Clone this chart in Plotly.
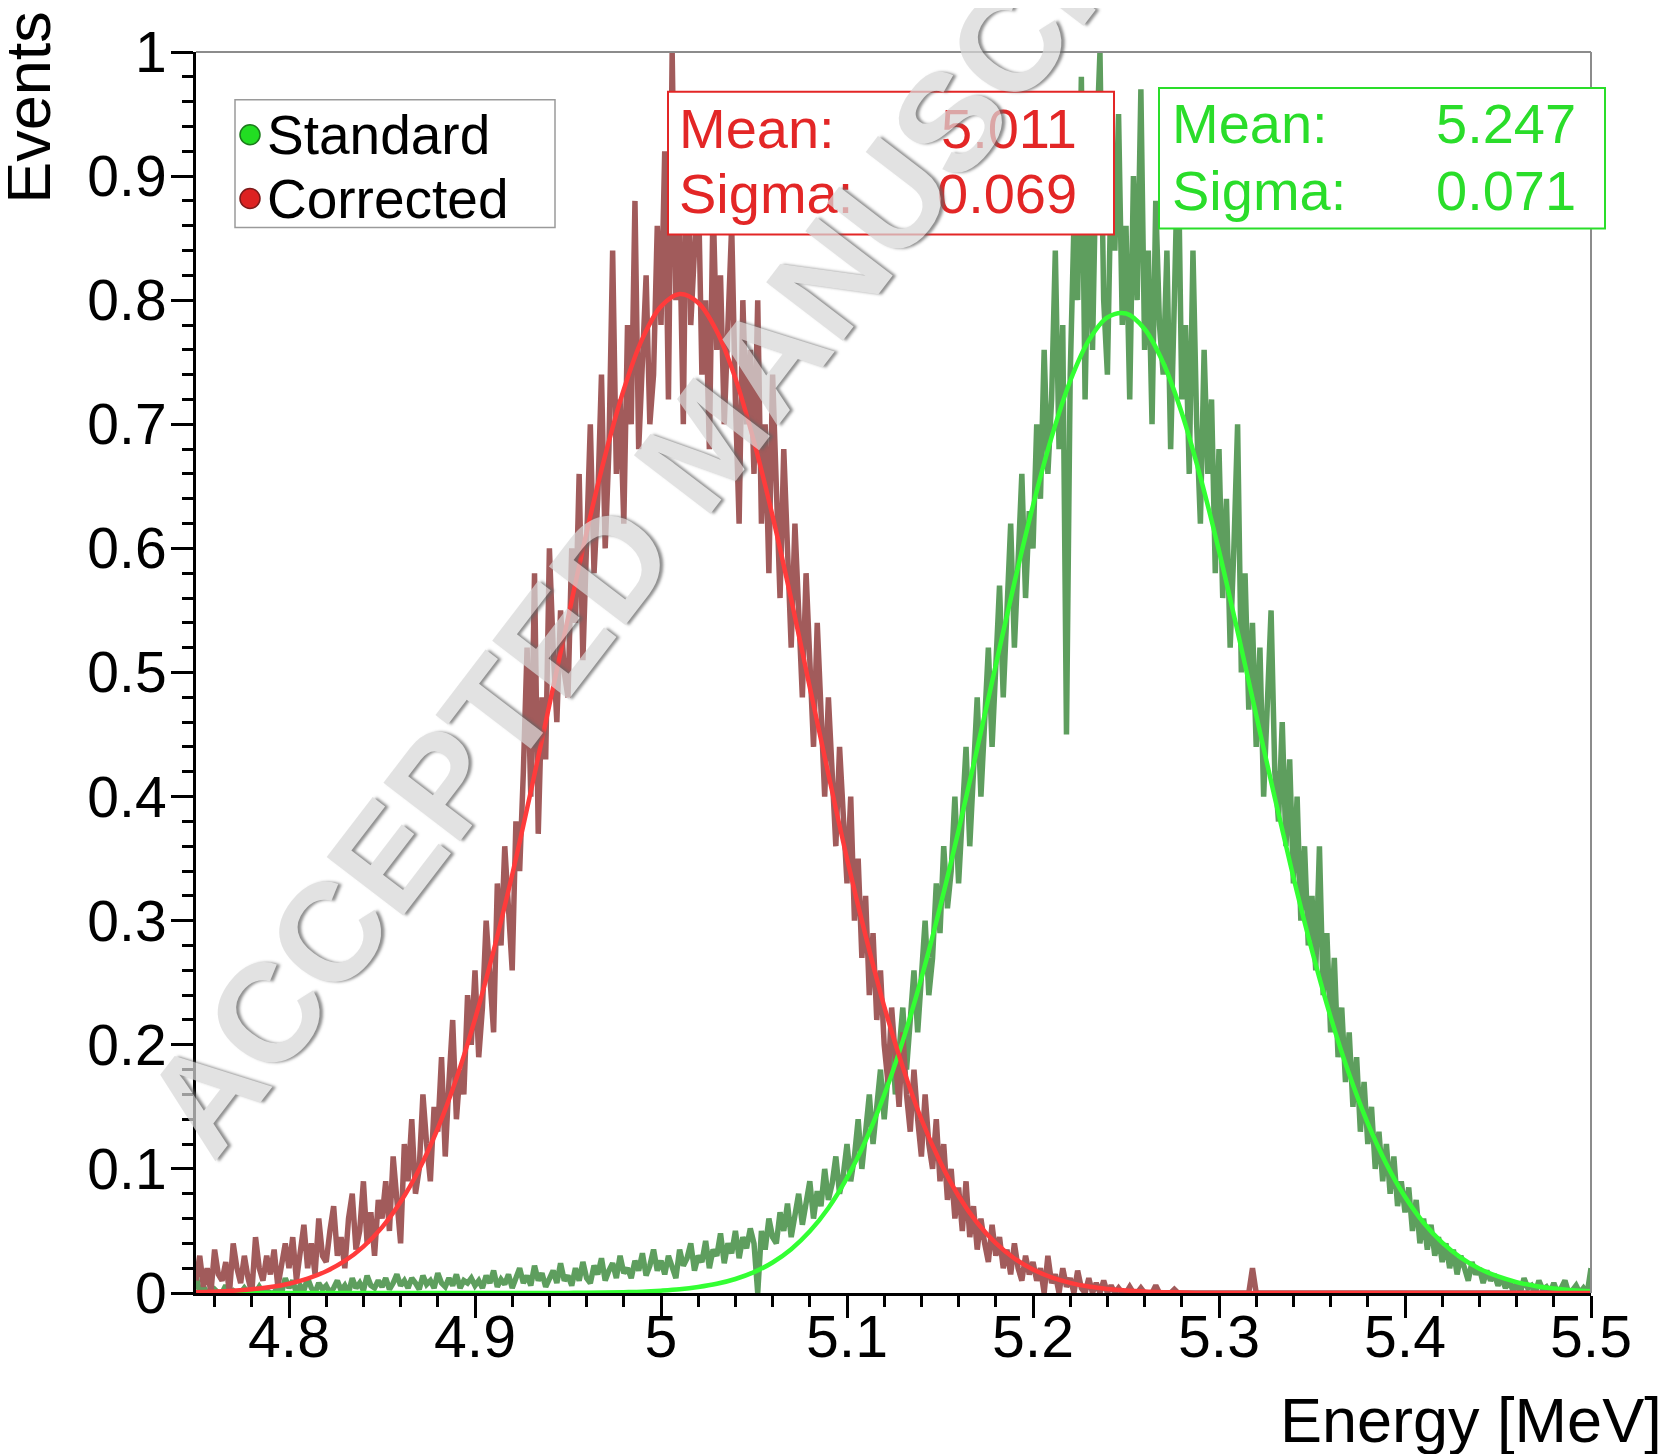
import plotly.graph_objects as go

# ---------------- data ----------------
bin_start = 4.75
bin_step = 0.002
n_bins = 376
energy = [round(bin_start + bin_step * i, 3) for i in range(n_bins)]

# one row = 25 bins = 0.05 MeV
corrected_counts = (
    [.01, .03, .005, .02, 0, .035, .015, .01, .025, 0, .04, .02, .008, .03, .012, 0, .045, .02, .01, .03, .015, .035, .005, .025, .04]
    + [.02, .045, .01, .03, .055, .02, .04, .015, .06, .03, .025, .05, .07, .03, .045, .02, .06, .08, .035, .05, .09, .04, .065, .03, .075]
    + [.06, .09, .05, .11, .075, .04, .12, .09, .14, .08, .10, .16, .12, .09, .15, .13, .19, .11, .17, .22, .14, .18, .16, .24, .20]
    + [.26, .19, .23, .30, .25, .21, .33, .28, .36, .30, .26, .38, .34, .42, .52, .40, .58, .37, .48, .43, .60, .52, .46, .55, .50]
    + [.48, .60, .54, .66, .51, .62, .70, .58, .64, .74, .60, .68, .84, .66, .72, .62, .78, .70, .88, .68, .76, .82, .70, .74, .86]
    + [.78, .92, .72, 1.0, .80, .86, .70, .96, .78, .84, .90, .74, .80, .68, .88, .76, .82, .70, .78, .86, .72, .62, .80, .70, .76]
    + [.66, .80, .62, .70, .58, .74, .64, .56, .68, .60, .52, .62, .55, .48, .58, .50, .44, .54, .46, .40, .48, .42, .36, .44, .38]
    + [.33, .40, .30, .35, .27, .32, .24, .29, .22, .26, .20, .17, .23, .19, .15, .21, .16, .13, .18, .14, .11, .16, .12, .10, .14]
    + [.09, .12, .075, .10, .06, .085, .05, .09, .045, .07, .035, .06, .04, .025, .055, .03, .045, .02, .035, .015, .04, .02, .01, .03, .015]
    + [.025, .01, .02, 0, .03, .008, .015, 0, .02, .005, .012, 0, .018, .004, 0, .012, 0, .008, 0, .01, 0, .006, 0, .004, 0]
    + [0, .005, 0, 0, .004, 0, 0, 0, .006, 0, 0, 0, 0, .003, 0, 0, 0, 0, 0, 0, 0, 0, 0, 0, 0]
    + [0, 0, 0, 0, 0, 0, 0, 0, 0, .02, 0, 0, 0, 0, 0, 0, 0, 0, 0, 0, 0, 0, 0, 0, 0]
    + [0] * 75
    + [0]
)

standard_counts = (
    [.015, 0, .005, 0, 0, .003, 0, 0, .006, 0, .002, 0, 0, .004, 0, 0, 0, .005, 0, .002, 0, 0, .006, 0, .012]
    + [.004, .01, 0, .006, .002, .012, .004, 0, .008, .003, .006, 0, .004, .01, .002, .006, 0, .012, .004, .008, .002, .014, .006, .004, .01]
    + [.005, .012, .003, .008, .015, .006, .01, .004, .012, .008, .003, .014, .007, .01, .004, .016, .008, .005, .012, .006, .015, .004, .01, .008, .012]
    + [.006, .01, .004, .014, .008, .018, .005, .011, .007, .015, .004, .012, .02, .008, .014, .006, .022, .01, .016, .005, .012, .018, .008, .024, .01]
    + [.014, .006, .02, .01, .025, .012, .008, .022, .015, .028, .01, .018, .024, .012, .03, .016, .02, .012, .026, .018, .032, .014, .022, .035, .018]
    + [.026, .015, .03, .02, .012, .035, .022, .028, .04, .018, .03, .025, .042, .02, .035, .03, .048, .024, .04, .032, .05, .028, .045, .036, .052]
    + [.04, 0, .05, .035, .06, .045, .04, .065, .05, .072, .045, .06, .08, .055, .07, .09, .06, .082, .07, .10, .075, .088, .11, .08, .095]
    + [.12, .09, .11, .14, .10, .13, .16, .12, .15, .18, .14, .17, .21, .16, .19, .23, .18, .22, .26, .21, .25, .30, .24, .27, .33]
    + [.29, .36, .31, .34, .40, .33, .38, .44, .36, .42, .48, .40, .46, .52, .44, .50, .57, .48, .55, .62, .52, .58, .66, .56, .63]
    + [.60, .70, .64, .76, .66, .72, .84, .68, .78, .45, .74, .86, .80, .98, .72, .88, .76, .92, 1.0, .80, .74, .90, .84, .95, .78]
    + [.86, .72, .90, .80, .97, .76, .84, .70, .88, .78, .74, .84, .68, .80, .93, .72, .78, .66, .84, .70, .62, .76, .66, .72, .58]
    + [.68, .56, .64, .52, .60, .70, .50, .58, .47, .54, .44, .52, .40, .48, .55, .42, .38, .46, .36, .43, .33, .40, .30, .36, .28]
    + [.32, .26, .36, .24, .29, .21, .27, .19, .23, .17, .21, .15, .19, .13, .17, .12, .15, .10, .13, .09, .12, .08, .11, .07, .09]
    + [.065, .085, .05, .075, .04, .06, .035, .055, .03, .045, .025, .04, .02, .035, .015, .03, .02, .01, .025, .015, .02, .008, .018, .01, .015]
    + [.006, .012, .004, .01, .002, .008, 0, .012, .004, .006, 0, .01, .003, .005, 0, .008, 0, .004, .01, 0, .002, .006, 0, .004, 0]
    + [.02]
)

fit_energy = [round(4.75 + 0.01 * i, 2) for i in range(76)]
corrected_fit = [
    .0006, .0011, .0018, .003, .0048, .0075, .0116, .0175, .0258, .0374,
    .0529, .0735, .0998, .1327, .1729, .2207, .2758, .337, .404, .474,
    .544, .613, .675, .728, .769, .795, .805, .798, .775, .737,
    .686, .626, .559, .488, .418, .350, .288, .231, .182, .140,
    .106, .0782, .0566, .0401, .0278, .0189, .0126, .0082, .0052, .0032,
    .002, .0012, .0007, .0004,
] + [0] * 22
standard_fit = [0] * 20 + [
    .0001, .0002, .0004, .0007, .0011, .0019, .003, .0048, .0074, .0113,
    .0168, .0246, .0353, .0497, .0685, .0927, .1228, .1595, .2032, .2537,
    .3108, .3729, .4387, .5061, .5724, .6346, .6897, .7349, .7676, .7862,
    .7893, .7768, .7496, .7091, .6575, .598, .533, .4657, .399, .335,
    .2759, .2225, .1762, .1367, .104, .0775, .0566, .0406, .0285, .0196,
    .0133, .0088, .0057, .0036, .0023, .0014,
]

x_ticks = [4.8, 4.9, 5.0, 5.1, 5.2, 5.3, 5.4, 5.5]
x_labels = ["4.8", "4.9", "5", "5.1", "5.2", "5.3", "5.4", "5.5"]
y_ticks = [0, 0.1, 0.2, 0.3, 0.4, 0.5, 0.6, 0.7, 0.8, 0.9, 1.0]
y_labels = ["0", "0.1", "0.2", "0.3", "0.4", "0.5", "0.6", "0.7", "0.8", "0.9", "1"]

series_names = ["Standard", "Corrected"]
stats_corrected = [("Mean:", "5.011"), ("Sigma:", "0.069")]
stats_standard = [("Mean:", "5.247"), ("Sigma:", "0.071")]

# ---------------- styling ----------------
FONT = "Liberation Sans, Arial, Helvetica, sans-serif"
C_DATA_RED = "#A15B5B"
C_DATA_GREEN = "#5E9E5E"
C_FIT_RED = "#FF3B3B"
C_FIT_GREEN = "#33FF33"
C_TXT_RED = "#E32626"
C_TXT_GREEN = "#2ADD2A"

# the page body has an 8px margin: the figure starts at (8, 8) in the window
OFF = 8
W, H = 1672 - OFF, 1454 - OFF
L, R, T, B = 196 - OFF, 81, 48 - OFF, 161
PW, PH = W - L - R, H - T - B


def px(x):  # window pixel -> paper
    return (x - OFF - L) / PW


def py(y):
    return (H - B - (y - OFF)) / PH


fig = go.Figure()
fig.add_trace(go.Scatter(x=energy, y=standard_counts, mode="lines",
                         line=dict(color=C_DATA_GREEN, width=5.5), showlegend=False))
fig.add_trace(go.Scatter(x=energy, y=corrected_counts, mode="lines",
                         line=dict(color=C_DATA_RED, width=5.5), showlegend=False))
fig.add_trace(go.Scatter(x=fit_energy, y=standard_fit, mode="lines",
                         line=dict(color=C_FIT_GREEN, width=4.5, shape="spline"), showlegend=False))
fig.add_trace(go.Scatter(x=fit_energy, y=corrected_fit, mode="lines",
                         line=dict(color=C_FIT_RED, width=4.5, shape="spline"), showlegend=False))

shapes = []
annotations = []

# frame lines (top/right, gray)
shapes.append(dict(type="line", xref="paper", yref="paper", x0=0, x1=1, y0=1, y1=1,
                   line=dict(color="#8c8c8c", width=2), layer="above"))
shapes.append(dict(type="line", xref="paper", yref="paper", x0=1, x1=1, y0=0, y1=1,
                   line=dict(color="#8c8c8c", width=2), layer="above"))

# legend box (manual)
shapes.append(dict(type="rect", xref="paper", yref="paper",
                   x0=px(235), x1=px(555), y0=py(224), y1=py(96),
                   line=dict(color="#9a9a9a", width=1.5), fillcolor="white", layer="above"))
leg_items = [(series_names[0], 131, "#22DD22", "#1a7a1a"), (series_names[1], 195, "#DD2222", "#7a1a1a")]
for name, cy, fill, edge in leg_items:
    shapes.append(dict(type="circle", xref="paper", yref="paper",
                       x0=px(240), x1=px(260), y0=py(cy + 10), y1=py(cy - 10),
                       line=dict(color=edge, width=1.5), fillcolor=fill, layer="above"))
    annotations.append(dict(text=name, xref="paper", yref="paper", x=px(265), y=py(cy),
                            xanchor="left", yanchor="middle", showarrow=False,
                            font=dict(family=FONT, size=55, color="black")))

# statistics boxes
boxes = [
    (stats_corrected, C_TXT_RED, 668, 1114, 88, 231, 677, 1079, [125, 190]),
    (stats_standard, C_TXT_GREEN, 1159, 1605, 84, 225, 1170, 1578, [120, 187]),
]
for stats, col, x0, x1, y0, y1, tl, tr, ys in boxes:
    shapes.append(dict(type="rect", xref="paper", yref="paper",
                       x0=px(x0), x1=px(x1), y0=py(y1), y1=py(y0),
                       line=dict(color=col, width=2), fillcolor="white", layer="above"))
    for (lab, val), yy in zip(stats, ys):
        annotations.append(dict(text=lab, xref="paper", yref="paper", x=px(tl), y=py(yy),
                                xanchor="left", yanchor="middle", showarrow=False,
                                font=dict(family=FONT, size=56, color=col)))
        annotations.append(dict(text=val, xref="paper", yref="paper", x=px(tr), y=py(yy),
                                xanchor="right", yanchor="middle", showarrow=False,
                                font=dict(family=FONT, size=56, color=col)))

# axis titles
annotations.append(dict(text="Events", xref="paper", yref="paper", x=px(28), y=py(104),
                        xanchor="center", yanchor="middle", textangle=-90, showarrow=False,
                        font=dict(family=FONT, size=63, color="black")))
annotations.append(dict(text="Energy [MeV]", xref="paper", yref="paper", x=px(1664), y=py(1420),
                        xanchor="right", yanchor="middle", showarrow=False,
                        font=dict(family=FONT, size=63, color="black")))

# watermark
annotations.append(dict(text="ACCEPTED MANUSCRIPT", xref="paper", yref="paper",
                        x=px(704), y=py(440), xanchor="center", yanchor="middle",
                        textangle=-52.6, showarrow=False, opacity=0.72,
                        font=dict(family=FONT, size=140, weight="bold", color="rgb(216,216,216)",
                                  shadow="2px 3px 3px rgb(100,100,100)")))

fig.update_layout(
    width=W, height=H,
    margin=dict(l=L, r=R, t=T, b=B),
    paper_bgcolor="white", plot_bgcolor="white",
    showlegend=False,
    shapes=shapes, annotations=annotations,
    font=dict(family=FONT, color="black"),
)
fig.update_xaxes(range=[4.75, 5.5], tickmode="array", tickvals=x_ticks, ticktext=x_labels,
                 ticks="outside", ticklen=22, tickwidth=3, tickcolor="black",
                 showline=True, linecolor="black", linewidth=3, showgrid=False, zeroline=False,
                 tickfont=dict(family=FONT, size=59, color="black"), layer="below traces",
                 ticklabelstandoff=-32,
                 minor=dict(dtick=0.02, tick0=4.8, ticks="outside", ticklen=11, tickwidth=3,
                            tickcolor="black", showgrid=False))
fig.update_yaxes(range=[0, 1], tickmode="array", tickvals=y_ticks, ticktext=y_labels,
                 ticks="outside", ticklen=22, tickwidth=3, tickcolor="black",
                 showline=True, linecolor="black", linewidth=3, showgrid=False, zeroline=False,
                 tickfont=dict(family=FONT, size=57, color="black"), layer="below traces",
                 ticklabelstandoff=-7,
                 minor=dict(dtick=0.02, tick0=0, ticks="outside", ticklen=11, tickwidth=3,
                            tickcolor="black", showgrid=False))

fig.write_html("out.html")
